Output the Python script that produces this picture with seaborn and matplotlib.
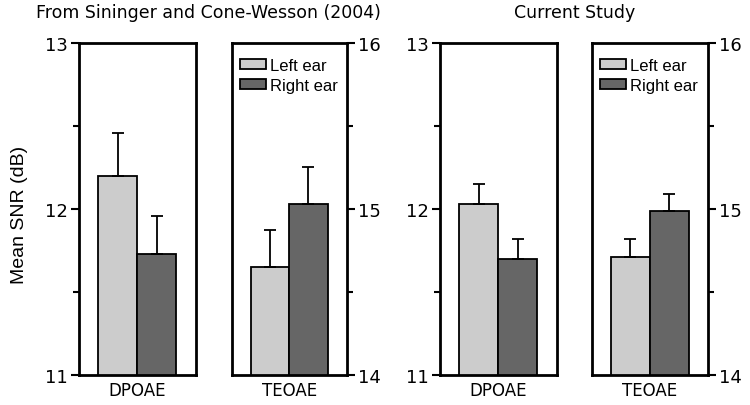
"""Mean SNR by ear for DPOAE and TEOAE, previous study vs current study."""

import matplotlib.pyplot as plt
import pandas as pd
import seaborn as sns

EARS = ["Left ear", "Right ear"]
EAR_COLORS = ["#cccccc", "#666666"]

SININGER_DPOAE_MEAN = [12.20, 11.73]
SININGER_DPOAE_ERR = [0.26, 0.23]
SININGER_TEOAE_MEAN = [14.65, 15.03]
SININGER_TEOAE_ERR = [0.22, 0.22]

CURRENT_DPOAE_MEAN = [12.03, 11.70]
CURRENT_DPOAE_ERR = [0.12, 0.12]
CURRENT_TEOAE_MEAN = [14.71, 14.99]
CURRENT_TEOAE_ERR = [0.11, 0.10]

DPOAE_TICKS = [11, 12, 13]
TEOAE_TICKS = [14, 15, 16]


def draw_panel(ax, measure, means, errs, ticks, side, legend=False):
    df = pd.DataFrame({"measure": measure, "ear": EARS, "snr": means})
    sns.barplot(
        data=df,
        x="measure",
        y="snr",
        hue="ear",
        hue_order=EARS,
        palette=EAR_COLORS,
        width=0.67,
        edgecolor="black",
        linewidth=1.3,
        errorbar=None,
        legend=legend,
        ax=ax,
    )
    # one-sided error bars on top of each bar
    for bar, err in zip(ax.patches[: len(means)], errs):
        x = bar.get_x() + bar.get_width() / 2
        ax.errorbar(
            x, bar.get_height(), yerr=[[0], [err]], color="black",
            capsize=4, elinewidth=1.3, capthick=1.3, zorder=1,
        )
    ax.set_xlim(-0.5, 0.5)
    ax.set_ylim(ticks[0], ticks[-1])
    ax.set_yticks(ticks)
    ax.set_yticks([ticks[0] + 0.5, ticks[1] + 0.5], minor=True)
    ax.set_xlabel("")
    ax.set_ylabel("")
    ax.tick_params(axis="x", length=0, labelsize=12, pad=4, colors="black")
    ax.tick_params(axis="y", which="major", length=6, width=1.5, labelsize=13,
                   pad=2, colors="black")
    ax.tick_params(axis="y", which="minor", length=4, width=1.5, colors="black")
    if side == "right":
        ax.yaxis.tick_right()
    else:
        ax.yaxis.tick_left()
    for spine in ax.spines.values():
        spine.set_visible(True)
        spine.set_linewidth(2)
        spine.set_color("black")
    if legend:
        ax.legend(
            loc="upper left", frameon=False, handlelength=1.55,
            handleheight=0.5, bbox_to_anchor=(-0.04, 0.995), borderpad=0.3,
            handletextpad=0.25, labelspacing=0.3,
            prop={"family": "Liberation Sans", "size": 12},
        )


sns.set_style("ticks", {"text.color": "black", "axes.labelcolor": "black",
                        "xtick.color": "black", "ytick.color": "black"})
plt.rcParams["font.family"] = ["DejaVu Sans"]

fig = plt.figure(figsize=(7.5, 4.06), dpi=100)
bottom, height = 0.074, 0.818
ax1 = fig.add_axes([0.105, bottom, 0.156, height])
ax2 = fig.add_axes([0.309, bottom, 0.153, height])
ax3 = fig.add_axes([0.587, bottom, 0.155, height])
ax4 = fig.add_axes([0.789, bottom, 0.155, height])

draw_panel(ax1, "DPOAE", SININGER_DPOAE_MEAN, SININGER_DPOAE_ERR, DPOAE_TICKS, "left")
draw_panel(ax2, "TEOAE", SININGER_TEOAE_MEAN, SININGER_TEOAE_ERR, TEOAE_TICKS, "right", legend=True)
draw_panel(ax3, "DPOAE", CURRENT_DPOAE_MEAN, CURRENT_DPOAE_ERR, DPOAE_TICKS, "left")
draw_panel(ax4, "TEOAE", CURRENT_TEOAE_MEAN, CURRENT_TEOAE_ERR, TEOAE_TICKS, "right", legend=True)

fig.text(0.278, 0.968, "From Sininger and Cone-Wesson (2004)", ha="center", va="center", fontsize=12.5)
fig.text(0.766, 0.968, "Current Study", ha="center", va="center", fontsize=12.5)
fig.text(0.026, 0.47, "Mean SNR (dB)", rotation=90, ha="center", va="center",
         fontsize=14, family="Liberation Sans")

fig.savefig("out.png", dpi=100)
